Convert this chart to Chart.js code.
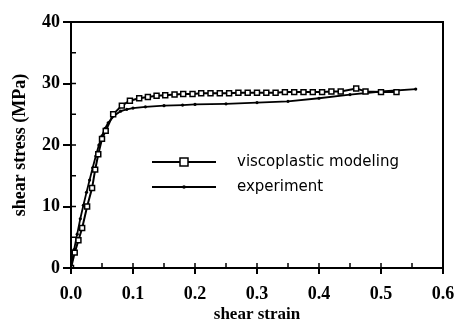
<!DOCTYPE html>
<html>
<head>
<meta charset="utf-8">
<script src="https://cdn.jsdelivr.net/npm/chart.js@4"></script>
<style>
  html, body { margin: 0; padding: 0; background: #fff; }
  #wrap { width: 457px; height: 325px; }
</style>
</head>
<body>
<div id="wrap"><canvas id="stressChart"></canvas></div>
<script>
// viscoplastic modeling (open squares)
var modelStrain = [0, 0.006, 0.012, 0.018, 0.026, 0.034, 0.039, 0.044, 0.05, 0.056, 0.068, 0.082, 0.095, 0.11, 0.124, 0.138, 0.152, 0.167, 0.181, 0.196, 0.21, 0.225, 0.24, 0.255, 0.27, 0.285, 0.3, 0.315, 0.33, 0.345, 0.36, 0.375, 0.39, 0.405, 0.42, 0.435, 0.46, 0.475, 0.5, 0.525]
var modelStress = [0, 2.5, 4.5, 6.5, 10, 13, 16, 18.5, 21, 22.3, 25, 26.4, 27.2, 27.6, 27.8, 28, 28.1, 28.2, 28.3, 28.3, 28.4, 28.4, 28.4, 28.4, 28.5, 28.5, 28.5, 28.5, 28.5, 28.6, 28.6, 28.6, 28.6, 28.6, 28.7, 28.7, 29.2, 28.7, 28.6, 28.6]

// experiment (small dots)
var expStrain = [0, 0.005, 0.01, 0.015, 0.02, 0.025, 0.03, 0.035, 0.04, 0.045, 0.05, 0.055, 0.06, 0.07, 0.08, 0.09, 0.1, 0.12, 0.15, 0.18, 0.2, 0.25, 0.3, 0.35, 0.4, 0.45, 0.5, 0.556]
var expStress = [0, 3, 5.5, 8, 10.2, 12.3, 14.3, 16.3, 18.2, 20, 21.5, 22.7, 23.6, 24.8, 25.5, 25.8, 26, 26.2, 26.4, 26.5, 26.6, 26.7, 26.9, 27.1, 27.6, 28.2, 28.7, 29.1]

var xTicks = [0, 0.1, 0.2, 0.3, 0.4, 0.5, 0.6]
var yTicks = [0, 10, 20, 30, 40]

function toPoints(xs, ys) {
  return xs.map(function (x, i) { return { x: x, y: ys[i] } })
}

// box round the plot + small inner ticks
var frameAndTicks = {
  id: 'frameAndTicks',
  afterDraw: function (chart) {
    var c = chart.ctx
    var a = chart.chartArea
    var xs = chart.scales.x
    var ys = chart.scales.y
    c.save()
    c.strokeStyle = '#000'
    c.lineWidth = 2
    c.strokeRect(a.left, a.top, a.right - a.left, a.bottom - a.top)
    c.lineWidth = 1.5
    c.beginPath()
    for (var v = 0.05; v < 0.59; v += 0.05) {
      var px = xs.getPixelForValue(v)
      c.moveTo(px, a.bottom)
      c.lineTo(px, a.bottom - 5)
    }
    for (var w = 5; w < 40; w += 5) {
      var py = ys.getPixelForValue(w)
      c.moveTo(a.left, py)
      c.lineTo(a.left + 5, py)
    }
    c.stroke()
    c.restore()
  },
}

var customLegend = {
  id: 'customLegend',
  afterDraw: function (chart) {
    var c = chart.ctx
    c.save()
    c.strokeStyle = '#000'
    c.fillStyle = '#000'
    c.lineWidth = 2
    c.beginPath()
    c.moveTo(152, 162); c.lineTo(216, 162)
    c.moveTo(152, 187); c.lineTo(216, 187)
    c.stroke()
    c.fillStyle = '#fff'
    c.lineWidth = 1.5
    c.fillRect(180, 158, 8, 8)
    c.strokeRect(180, 158, 8, 8)
    c.fillStyle = '#000'
    c.beginPath()
    c.arc(184, 187, 1.8, 0, Math.PI * 2)
    c.fill()
    c.font = '15px "DejaVu Sans"'
    c.textBaseline = 'middle'
    c.fillText('viscoplastic modeling', 237, 162)
    c.fillText('experiment', 237, 187)
    c.restore()
  },
}

var ctx = document.getElementById('stressChart').getContext('2d')
var myChart = new Chart(ctx, {
  type: 'scatter',
  data: {
    datasets: [
      {
        label: 'viscoplastic modeling',
        data: toPoints(modelStrain, modelStress),
        showLine: true,
        borderColor: '#000',
        borderWidth: 2,
        pointStyle: 'rect',
        pointRadius: 3.5,
        pointBackgroundColor: '#fff',
        pointBorderColor: '#000',
        pointBorderWidth: 1.5,
      },
      {
        label: 'experiment',
        data: toPoints(expStrain, expStress),
        showLine: true,
        borderColor: '#000',
        borderWidth: 1.8,
        pointStyle: 'circle',
        pointRadius: 1.6,
        pointBackgroundColor: '#000',
        pointBorderColor: '#000',
        pointBorderWidth: 0,
      },
    ],
  },
  options: {
    responsive: true,
    maintainAspectRatio: false,
    animation: false,
    layout: { padding: { top: 22, right: 14, left: 0, bottom: 0 } },
    plugins: { legend: { display: false }, tooltip: { enabled: false } },
    scales: {
      x: {
        type: 'linear',
        min: 0,
        max: 0.6,
        afterBuildTicks: function (s) { s.ticks = xTicks.map(function (v) { return { value: v } }) },
        afterFit: function (s) { s.height = 57; s.paddingLeft = 0; s.paddingRight = 0 },
        grid: { display: true, drawOnChartArea: false, color: '#000', lineWidth: 2, tickLength: 6 },
        border: { display: false },
        ticks: {
          color: '#000',
          font: { family: 'Liberation Serif', size: 18, weight: 'bold' },
          padding: 10,
          callback: function (v) { return v.toFixed(1) },
        },
        title: {
          display: true,
          text: 'shear strain',
          color: '#000',
          font: { family: 'Liberation Serif', size: 17, weight: 'bold' },
          padding: { top: 0, bottom: 0 },
        },
      },
      y: {
        min: 0,
        max: 40,
        afterBuildTicks: function (s) { s.ticks = yTicks.map(function (v) { return { value: v } }) },
        afterFit: function (s) { s.width = 71; s.paddingTop = 0; s.paddingBottom = 0 },
        grid: { display: true, drawOnChartArea: false, color: '#000', lineWidth: 2, tickLength: 8 },
        border: { display: false },
        ticks: {
          color: '#000',
          font: { family: 'Liberation Serif', size: 18, weight: 'bold' },
          padding: 3,
        },
        title: {
          display: true,
          text: 'shear stress (MPa)',
          color: '#000',
          font: { family: 'Liberation Serif', size: 18, weight: 'bold' },
          padding: { top: 10, bottom: 4 },
        },
      },
    },
  },
  plugins: [frameAndTicks, customLegend],
})
</script>
</body>
</html>
